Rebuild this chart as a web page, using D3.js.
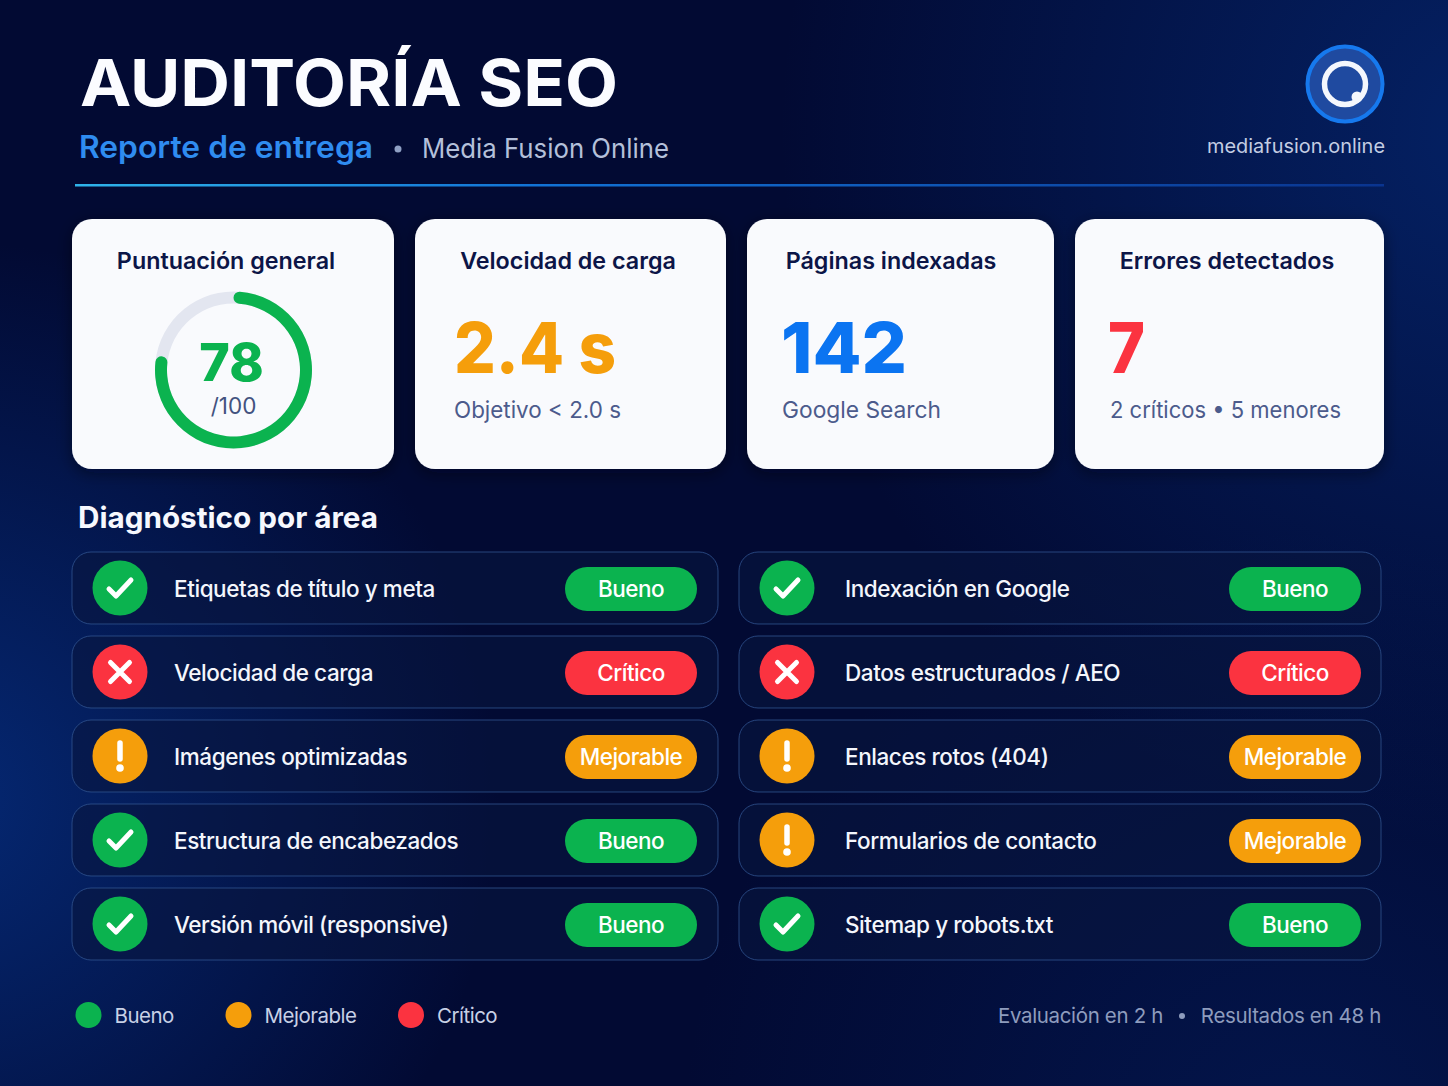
<!DOCTYPE html>
<html lang="es">
<head>
<meta charset="utf-8">
<title>Auditoría SEO</title>
<script src="https://cdn.jsdelivr.net/npm/d3@7"></script>
<style>
  html, body { margin: 0; padding: 0; background: #020a33; }
  svg { display: block; }
  text { font-family: Inter, "Noto Sans", sans-serif; }
</style>
</head>
<body>
<svg width="1448" height="1086"></svg>
<script>
// Data
const score = 78;
const scoreMax = 100;
const cardTitles = ['Puntuación general', 'Velocidad de carga', 'Páginas indexadas', 'Errores detectados'];
const cardValues = [null, '2.4 s', '142', '7'];
const cardNotes = [null, 'Objetivo < 2.0 s', 'Google Search', '2 críticos • 5 menores'];
const cardValueColors = [null, '#f59e0b', '#0b74f1', '#fb3340'];
const statuses = ['Bueno', 'Mejorable', 'Crítico'];
const statusColors = ['#0bb34f', '#f59e0b', '#fb3340'];
const leftAreas = ['Etiquetas de título y meta', 'Velocidad de carga', 'Imágenes optimizadas', 'Estructura de encabezados', 'Versión móvil (responsive)'];
const leftStatus = ['Bueno', 'Crítico', 'Mejorable', 'Bueno', 'Bueno'];
const rightAreas = ['Indexación en Google', 'Datos estructurados / AEO', 'Enlaces rotos (404)', 'Formularios de contacto', 'Sitemap y robots.txt'];
const rightStatus = ['Bueno', 'Crítico', 'Mejorable', 'Mejorable', 'Bueno'];

const width = 1448;
const height = 1086;
const svg = d3.select('svg');
const defs = svg.append('defs');
const color = d3.scaleOrdinal().domain(statuses).range(statusColors);

// Background glows
function radial(id, cx, cy, r, col, op) {
    const g = defs.append('radialGradient').attr('id', id)
        .attr('gradientUnits', 'userSpaceOnUse')
        .attr('cx', cx).attr('cy', cy).attr('r', r);
    g.append('stop').attr('offset', 0).attr('stop-color', col).attr('stop-opacity', op);
    g.append('stop').attr('offset', 1).attr('stop-color', col).attr('stop-opacity', 0);
}
radial('glowLeft', -60, 800, 560, '#06348c', 0.72);
radial('glowRight', 1500, 130, 720, '#06348c', 0.55);
radial('glowLow', 1300, 1150, 620, '#052a78', 0.35);
svg.append('rect').attr('width', width).attr('height', height).attr('fill', '#020a33');
['glowLeft', 'glowRight', 'glowLow'].forEach(id => {
    svg.append('rect').attr('width', width).attr('height', height).attr('fill', `url(#${id})`);
});

const shadow = defs.append('filter').attr('id', 'cardShadow')
    .attr('x', '-10%').attr('y', '-10%').attr('width', '120%').attr('height', '125%');
shadow.append('feDropShadow').attr('dx', 0).attr('dy', 4).attr('stdDeviation', 8)
    .attr('flood-color', '#000016').attr('flood-opacity', 0.45);

// Header
svg.append('text').attr('x', 80).attr('y', 106)
    .attr('font-size', 65).attr('font-weight', 700).attr('fill', '#fbfcff')
    .attr('textLength', 538).attr('lengthAdjust', 'spacingAndGlyphs')
    .text('AUDITORÍA SEO');
svg.append('text').attr('x', 79).attr('y', 158)
    .attr('font-size', 31).attr('font-weight', 600).attr('fill', '#2f8cf0')
    .attr('textLength', 294).attr('lengthAdjust', 'spacingAndGlyphs')
    .text('Reporte de entrega');
svg.append('circle').attr('cx', 398).attr('cy', 149).attr('r', 3.5).attr('fill', '#8fa0c4');
svg.append('text').attr('x', 422).attr('y', 158)
    .attr('font-size', 27).attr('fill', '#b4c0da')
    .attr('textLength', 247).attr('lengthAdjust', 'spacingAndGlyphs')
    .text('Media Fusion Online');

const rule = defs.append('linearGradient').attr('id', 'rule');
rule.append('stop').attr('offset', 0).attr('stop-color', '#2fb4ea');
rule.append('stop').attr('offset', 0.35).attr('stop-color', '#1273d6');
rule.append('stop').attr('offset', 1).attr('stop-color', '#0a348f');
svg.append('rect').attr('x', 75).attr('y', 184).attr('width', 1309).attr('height', 2.5).attr('fill', 'url(#rule)');

// Logo
const logo = svg.append('g').attr('transform', 'translate(1345,84)');
logo.append('circle').attr('r', 37.5).attr('fill', '#1f4aa0').attr('stroke', '#1679ee').attr('stroke-width', 4);
logo.append('circle').attr('r', 20.5).attr('fill', 'none').attr('stroke', '#f4f7fd').attr('stroke-width', 5.5);
logo.append('circle').attr('cx', 12).attr('cy', 13).attr('r', 5.5).attr('fill', '#f4f7fd');
svg.append('text').attr('x', 1385).attr('y', 153).attr('text-anchor', 'end')
    .attr('font-size', 20).attr('fill', '#c3cde3')
    .attr('textLength', 178).attr('lengthAdjust', 'spacingAndGlyphs')
    .text('mediafusion.online');

// KPI cards
const cardX = [72, 415, 747, 1075];
const cardW = [322, 311, 307, 309];
const titleX = [226, 568, 891, 1227];
const valueX = [0, 454, 781, 1108];
const valueW = [0, 162, 126, 37];
const noteX = [0, 454, 782, 1110];
const noteW = [0, 167, 159, 231];
const cards = svg.selectAll('.card').data(cardTitles).enter().append('g').attr('class', 'card');
cards.append('rect')
    .attr('x', (d, i) => cardX[i]).attr('y', 219)
    .attr('width', (d, i) => cardW[i]).attr('height', 250)
    .attr('rx', 20).attr('fill', '#f9fafd').attr('filter', 'url(#cardShadow)');
cards.append('text')
    .attr('x', (d, i) => titleX[i]).attr('y', 269).attr('text-anchor', 'middle')
    .attr('font-size', 23.3).attr('font-weight', 600).attr('fill', '#0c1547')
    .text(d => d);

// Big numbers, only for the last three cards
cards.filter((d, i) => cardValues[i]).append('text')
    .attr('x', d => valueX[cardTitles.indexOf(d)]).attr('y', 373)
    .attr('font-size', 70).attr('font-weight', 800)
    .attr('textLength', d => valueW[cardTitles.indexOf(d)]).attr('lengthAdjust', 'spacingAndGlyphs')
    .attr('fill', d => cardValueColors[cardTitles.indexOf(d)])
    .text(d => cardValues[cardTitles.indexOf(d)]);
cards.filter((d, i) => cardNotes[i]).append('text')
    .attr('x', d => noteX[cardTitles.indexOf(d)]).attr('y', 418)
    .attr('font-size', 23).attr('fill', '#4c5b8c')
    .attr('textLength', d => noteW[cardTitles.indexOf(d)]).attr('lengthAdjust', 'spacingAndGlyphs')
    .text(d => cardNotes[cardTitles.indexOf(d)]);

// Gauge
const gaugeAngle = d3.scaleLinear().domain([0, scoreMax]).range([0, 2 * Math.PI]);
const gauge = svg.append('g').attr('transform', 'translate(233.5,370)');
const ringArc = d3.arc().innerRadius(66.5).outerRadius(78.5);
gauge.append('path').attr('d', ringArc({ startAngle: 0, endAngle: 2 * Math.PI })).attr('fill', '#e3e6f0');
gauge.append('path')
    .attr('d', ringArc.cornerRadius(6)({ startAngle: gaugeAngle(0), endAngle: gaugeAngle(score) }))
    .attr('fill', statusColors[0]);
gauge.append('text').attr('x', -2).attr('y', 11).attr('text-anchor', 'middle')
    .attr('font-size', 52).attr('font-weight', 800).attr('fill', statusColors[0]).text(score);
gauge.append('text').attr('y', 44).attr('text-anchor', 'middle')
    .attr('font-size', 22.5).attr('fill', '#43527f').text('/' + scoreMax);

// Section title
svg.append('text').attr('x', 78).attr('y', 528)
    .attr('font-size', 29.5).attr('font-weight', 700).attr('fill', '#f6f8fe')
    .attr('textLength', 300).attr('lengthAdjust', 'spacingAndGlyphs')
    .text('Diagnóstico por área');

// Status rows
const rowY = d3.scaleBand().domain(d3.range(leftAreas.length)).range([552, 960]).paddingInner(0.1429).paddingOuter(0);

function statusIcon(g, status) {
    g.append('circle').attr('r', 27.5).attr('fill', color(status));
    const path = g.append('path').attr('stroke', '#fff').attr('stroke-linecap', 'round')
        .attr('stroke-linejoin', 'round').attr('fill', 'none');
    if (status === 'Bueno') {
        path.attr('stroke-width', 5).attr('d', 'M-11,1 L-4,8 L11,-8');
    } else if (status === 'Crítico') {
        path.attr('stroke-width', 5).attr('d', 'M-9.5,-9.5 L9.5,9.5 M9.5,-9.5 L-9.5,9.5');
    } else {
        path.attr('stroke-width', 5.5).attr('d', 'M0,-13 L0,3');
        g.append('circle').attr('cy', 12).attr('r', 3.8).attr('fill', '#fff');
    }
}

function drawColumn(areas, status, x, w, iconX, textX, pillX) {
    const rows = svg.selectAll(null).data(areas).enter().append('g')
        .attr('transform', (d, i) => `translate(0,${rowY(i)})`);
    rows.append('rect')
        .attr('x', x).attr('width', w).attr('height', rowY.bandwidth())
        .attr('rx', 19)
        .attr('fill', '#081640').attr('fill-opacity', 0.6)
        .attr('stroke', '#2f528f').attr('stroke-opacity', 0.8).attr('stroke-width', 1);
    rows.append('g')
        .attr('transform', `translate(${iconX},${rowY.bandwidth() / 2})`)
        .each(function (d, i) { statusIcon(d3.select(this), status[i]); });
    rows.append('text')
        .attr('x', textX).attr('y', rowY.bandwidth() / 2 + 9)
        .attr('font-size', 22.5).attr('font-weight', 500).attr('fill', '#f4f6fc')
        .attr('letter-spacing', -0.42)
        .text(d => d);
    rows.append('rect')
        .attr('x', pillX).attr('y', rowY.bandwidth() / 2 - 21)
        .attr('width', 132).attr('height', 44).attr('rx', 22)
        .attr('fill', (d, i) => color(status[i]));
    rows.append('text')
        .attr('x', pillX + 66).attr('y', rowY.bandwidth() / 2 + 9)
        .attr('text-anchor', 'middle')
        .attr('font-size', 22.5).attr('font-weight', 500).attr('fill', '#fff')
        .attr('letter-spacing', -0.5)
        .text((d, i) => status[i]);
}
drawColumn(leftAreas, leftStatus, 72, 646, 120, 174, 565);
drawColumn(rightAreas, rightStatus, 739, 642, 787, 845, 1229);

// Legend and footer
const legendX = [88.5, 238.5, 411];
const legend = svg.selectAll('.legend').data(statuses).enter().append('g')
    .attr('class', 'legend')
    .attr('transform', (d, i) => `translate(${legendX[i]},1015)`);
legend.append('circle').attr('r', 13).attr('fill', d => color(d));
legend.append('text').attr('x', 26).attr('y', 7.5)
    .attr('font-size', 20.5).attr('fill', '#c8d1e6').attr('letter-spacing', -0.5).text(d => d);

svg.append('text').attr('x', 998).attr('y', 1023)
    .attr('font-size', 20.5).attr('fill', '#8e9cbd').attr('letter-spacing', -0.35).text('Evaluación en 2 h');
svg.append('circle').attr('cx', 1182).attr('cy', 1016).attr('r', 3).attr('fill', '#8e9cbd');
svg.append('text').attr('x', 1381).attr('y', 1023).attr('text-anchor', 'end')
    .attr('font-size', 20.5).attr('fill', '#8e9cbd').attr('letter-spacing', -0.35).text('Resultados en 48 h');
</script>
</body>
</html>
